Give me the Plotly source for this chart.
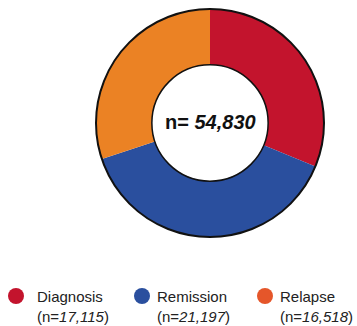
import plotly.graph_objects as go

# ---- data ----
categories = ["Diagnosis", "Remission", "Relapse"]
counts = [17115, 21197, 16518]
count_labels = ["17,115", "21,197", "16,518"]
total_label = "54,830"

# ---- style ----
slice_colors = ["#C3142D", "#2A4F9E", "#EB8224"]
legend_colors = ["#C3142D", "#2A4F9E", "#E5562A"]
W, H = 357, 326
FONT = "Liberation Sans, Arial, sans-serif"

def px(x):
    return x / W

def py(y):
    return 1 - y / H

cx, cy, R = 210, 123, 114
hole = 0.51

fig = go.Figure()
fig.add_trace(go.Pie(
    labels=categories,
    values=counts,
    hole=hole,
    sort=False,
    direction="clockwise",
    rotation=0,
    marker=dict(colors=slice_colors, line=dict(width=0)),
    textinfo="none",
    hoverinfo="label+value",
    showlegend=False,
    domain=dict(x=[px(cx - R), px(cx + R)], y=[py(cy + R), py(cy - R)]),
))

shapes = []
# outer and inner outlines
shapes.append(dict(type="circle", xref="paper", yref="paper",
                   x0=px(cx - R), x1=px(cx + R), y0=py(cy + R), y1=py(cy - R),
                   line=dict(color="#111111", width=2)))
r_in = R * hole
shapes.append(dict(type="circle", xref="paper", yref="paper",
                   x0=px(cx - r_in), x1=px(cx + r_in), y0=py(cy + r_in), y1=py(cy - r_in),
                   line=dict(color="#111111", width=1.5)))

annotations = [dict(
    x=px(cx), y=py(122), xref="paper", yref="paper",
    text="<b>n= <i>" + total_label + "</i></b>",
    showarrow=False, xanchor="center", yanchor="middle",
    font=dict(family=FONT, size=20, color="#111111"),
)]

dot_x = [16, 142, 265]
text_x = [35, 155, 278]
dot_r = 8
for i, cat in enumerate(categories):
    shapes.append(dict(type="circle", xref="paper", yref="paper",
                       x0=px(dot_x[i] - dot_r), x1=px(dot_x[i] + dot_r),
                       y0=py(296 + dot_r), y1=py(296 - dot_r),
                       fillcolor=legend_colors[i], line=dict(width=0)))
    annotations.append(dict(
        x=px(text_x[i]), y=py(306), xref="paper", yref="paper",
        text=cat + "<br>(n=<i>" + count_labels[i] + "</i>)",
        showarrow=False, xanchor="left", yanchor="middle", align="left",
        font=dict(family=FONT, size=15, color="#222222"),
    ))

fig.update_layout(
    width=W, height=H,
    margin=dict(l=0, r=0, t=0, b=0),
    paper_bgcolor="white", plot_bgcolor="white",
    shapes=shapes, annotations=annotations,
)
fig.write_html("out.html")
